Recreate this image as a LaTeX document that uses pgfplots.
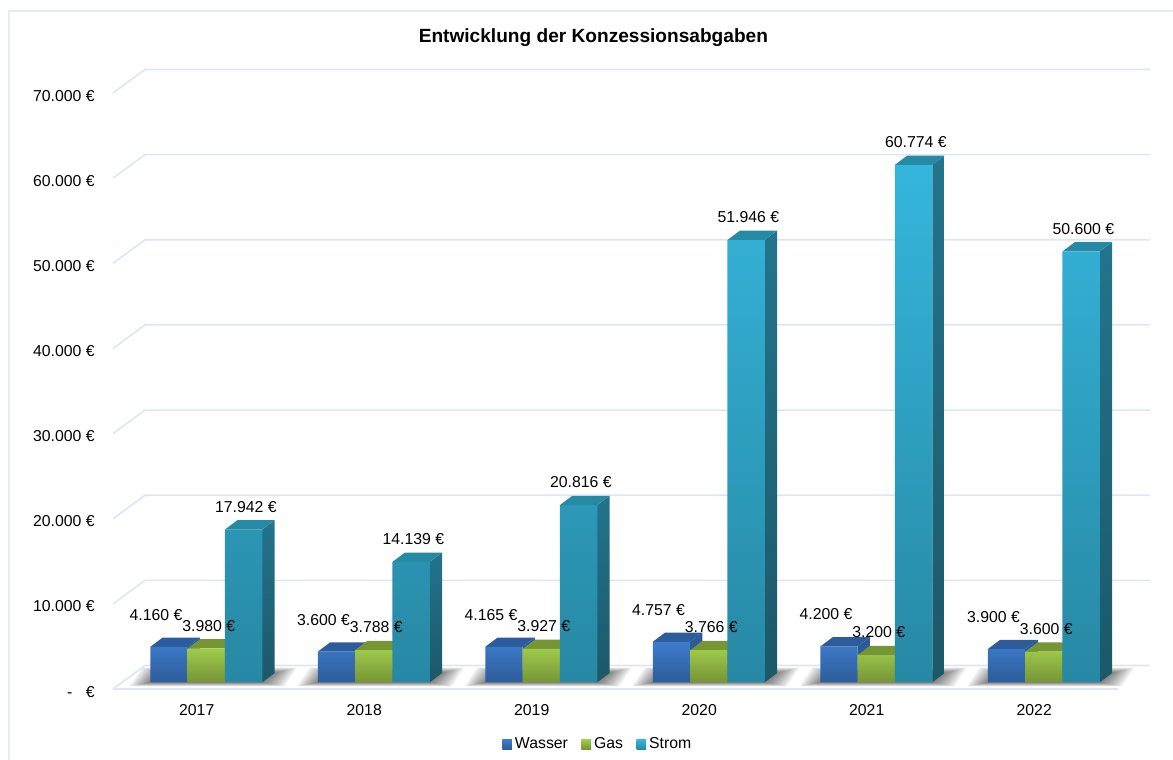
\documentclass[border=0pt]{standalone}
\usepackage{fontspec}
\setmainfont{Liberation Sans}
\usepackage{pgfplots}
\usepackage{pgfplotstable}
\pgfplotsset{compat=1.18}

\definecolor{gridc}{HTML}{DCE6F5}
\definecolor{framec}{HTML}{E2EBF7}
\definecolor{blueT}{HTML}{3E7CCB}
\definecolor{blueB}{HTML}{2C5C9A}
\definecolor{blueS}{HTML}{2B5A96}
\definecolor{blueD}{HTML}{2C5C9C}
\definecolor{greenT}{HTML}{9FCB4B}
\definecolor{greenB}{HTML}{769435}
\definecolor{greenS}{HTML}{769636}
\definecolor{stromT}{HTML}{35B6DC}
\definecolor{stromB}{HTML}{2788A4}
\definecolor{stromS}{HTML}{23748D}
\definecolor{stromD}{HTML}{1C5868}
\definecolor{stromO}{HTML}{268AA5}

\newcommand\lab{\fontsize{7.9}{9.5}\selectfont}

\pgfplotstableread{
jahr wasser gas strom
2017 4160 3980 17942
2018 3600 3788 14139
2019 4165 3927 20816
2020 4757 3766 51946
2021 4200 3200 60774
2022 3900 3600 50600
}\konz

% one group is 167.5 px wide, 10000 EUR are 85.1 px high, 1 px = 0.5pt
\pgfplotsset{common/.style={
    scale only axis, width=502.5pt, height=298pt,
    xmin=-0.5, xmax=5.5, ymin=0, ymax=70000, clip=false,
}}

% side and top face of the bars of one series
\newcommand\barfaces[5]{%
  \pgfplotsforeachungrouped \rw in {0,...,5}{%
    \pgfplotstablegetelem{\rw}{#1}\of\konz
    \edef\vf{\pgfplotsretval}%
    \edef\vb{\the\numexpr\pgfplotsretval+1093\relax}%
    \pgfmathsetmacro\xl{\rw+(#2)-0.1114}%
    \pgfmathsetmacro\xr{\rw+(#2)+0.1114}%
    \pgfmathsetmacro\xlb{\xl+0.0734}%
    \pgfmathsetmacro\xrb{\xr+0.0734}%
    \addplot[forget plot, draw=none, top color=#3, bottom color=#4]
      coordinates {(\xr,\vf) (\xrb,\vb) (\xrb,1093) (\xr,0)} -- cycle;
    \addplot[forget plot, draw=none, fill=#5]
      coordinates {(\xl,\vf) (\xr,\vf) (\xrb,\vb) (\xlb,\vb)} -- cycle;
  }%
}

% soft floor shadow of a group, nested polygons
\newcommand\floorshadow[1]{%
  \pgfplotsforeachungrouped \k in {16,...,1}{%
    \pgfmathsetmacro\xa{#1-(56+1.3*\k)/167.5}%
    \pgfmathsetmacro\xb{#1+(56+1.4*\k)/167.5}%
    \pgfmathsetmacro\xc{\xb+0.0734}%
    \pgfmathsetmacro\xd{\xa+0.0734}%
    \pgfmathtruncatemacro\yb{1093+40*\k}%
    \pgfmathtruncatemacro\yf{-30*\k}%
    \addplot[forget plot, draw=none, fill=black, opacity=0.04]
      coordinates {(\xa,\yf) (\xb,\yf) (\xc,\yb) (\xd,\yb)} -- cycle;
  }%
}

\begin{document}
\begin{tikzpicture}
\useasboundingbox (0,0) rectangle (586.5pt,-380pt);
\draw[framec, line width=1pt] (4.5pt,-380pt) -- (4.5pt,-5.5pt) -- (586.5pt,-5.5pt);

% scale, grid and category names, on the front of the floor
\begin{axis}[
    common,
    at={(56.5pt,-344.5pt)}, anchor=south west,
    axis line style={draw=none},
    major tick length=0pt,
    scaled y ticks=false,
    xtick={0,...,5},
    xticklabels={2017,2018,2019,2020,2021,2022},
    ytick={0,10000,20000,30000,40000,50000,60000,70000},
    yticklabels={-\hspace{6.7pt}€,10.000 €,20.000 €,30.000 €,40.000 €,50.000 €,60.000 €,70.000 €},
    xticklabel style={font=\lab, anchor=center, yshift=-10.4pt},
    yticklabel style={font=\lab, anchor=east, inner sep=0pt, xshift=-9pt, yshift=-1.3pt},
    title={Entwicklung der Konzessionsabgaben},
    every axis title shift=0pt,
    title style={font=\fontsize{9.55}{11}\selectfont\bfseries, at={(0.478,1.0935)}, anchor=center},
]
\pgfplotsinvokeforeach{0,10000,20000,30000,40000,50000,60000,70000}{
  \edef\vb{\the\numexpr#1+2761\relax}
  \addplot[gridc, line width=0.8pt, line join=round]
    coordinates {(-0.5,#1) (-0.309,\vb) (5.691,\vb)};
}
\addplot[gridc, line width=0.8pt] coordinates {(-0.5,0) (5.5,0)};
\end{axis}

% bars, their base stands a little behind the front of the floor
\begin{axis}[
    common,
    at={(61.275pt,-341.15pt)}, anchor=south west,
    hide axis,
    legend columns=3,
    legend style={at={(0.4734,-0.1044)}, anchor=center, draw=none, fill=none,
      font=\lab, inner sep=0pt, outer sep=0pt,
      /tikz/every even column/.append style={column sep=5.25pt},
      nodes={inner xsep=1.5pt, inner ysep=0pt}},
    legend image code/.code={\path[#1] (0pt,-2.4pt) rectangle (4.8pt,2.4pt);},
]
\floorshadow{0}\floorshadow{1}\floorshadow{2}\floorshadow{3}\floorshadow{4}\floorshadow{5}

\barfaces{wasser}{-0.2229}{blueS}{blueS}{blueD}
\addplot[ybar, bar width=18.67pt, bar shift=0pt, draw=none, top color=blueT, bottom color=blueB]
  table[x expr=\coordindex-0.2229, y=wasser] {\konz};
\addlegendentry{Wasser}

\barfaces{gas}{0}{greenS}{greenS}{greenS}
\addplot[ybar, bar width=18.67pt, bar shift=0pt, draw=none, top color=greenT, bottom color=greenB]
  table[x expr=\coordindex, y=gas] {\konz};
\addlegendentry{Gas}

\barfaces{strom}{0.2229}{stromS}{stromD}{stromO}
\addplot[ybar, bar width=18.67pt, bar shift=0pt, draw=none, top color=stromT, bottom color=stromB]
  table[x expr=\coordindex+0.2229, y=strom] {\konz};
\addlegendentry{Strom}
\end{axis}

% value labels, above all bars
\begin{axis}[
    common,
    at={(61.275pt,-341.15pt)}, anchor=south west,
    hide axis,
    nodes near coords={\pgfmathprintnumber[fixed, precision=0, 1000 sep={.}, assume math mode=true]{\pgfplotspointmeta}~€},
]
\addplot[draw=none, mark=none, nodes near coords style={font=\lab, anchor=center, inner sep=0pt, xshift=-6.5pt, yshift=16pt}]
  table[x expr=\coordindex-0.2229, y=wasser] {\konz};
\addplot[draw=none, mark=none, nodes near coords style={font=\lab, anchor=center, inner sep=0pt, xshift=1.25pt, yshift=11.4pt}]
  table[x expr=\coordindex, y=gas] {\konz};
\addplot[draw=none, mark=none, nodes near coords style={font=\lab, anchor=center, inner sep=0pt, xshift=1.1pt, yshift=11.4pt}]
  table[x expr=\coordindex+0.2229, y=strom] {\konz};
\end{axis}
\end{tikzpicture}
\end{document}
